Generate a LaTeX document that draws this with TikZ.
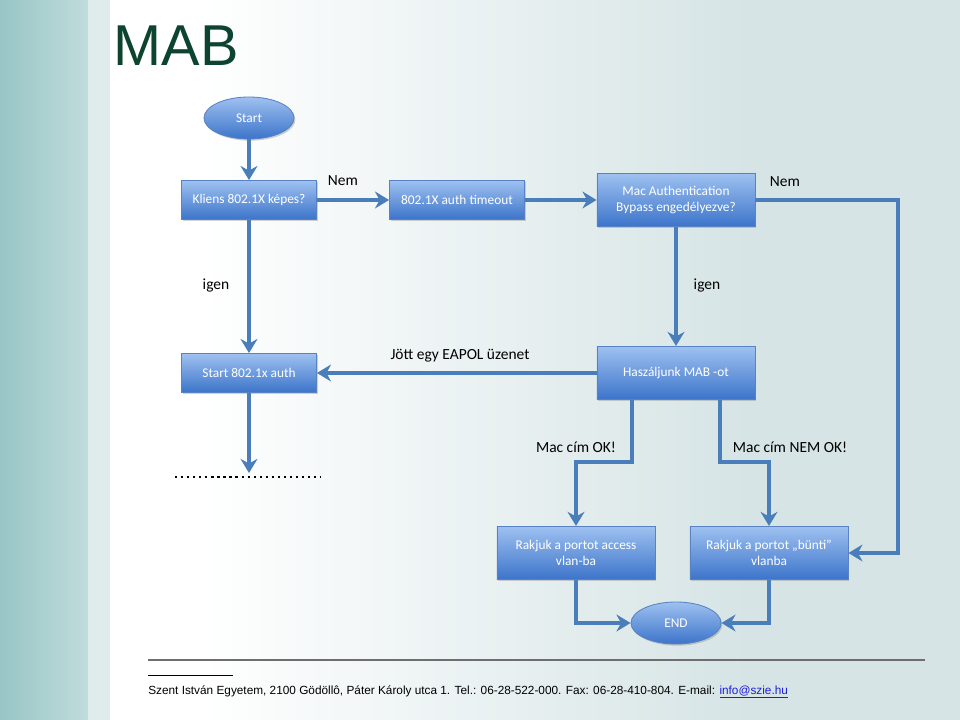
\documentclass[tikz,border=0pt]{standalone}
\usepackage{fontspec}
\setmainfont{Carlito}
\newfontfamily\arialfont{Liberation Sans}
\usetikzlibrary{shapes.geometric,arrows.meta,shadows,calc}
\definecolor{vonal}{RGB}{74,126,187}
\definecolor{dobozfent}{RGB}{158,193,240}
\definecolor{dobozlent}{RGB}{60,116,202}
\definecolor{dobozkeret}{RGB}{88,130,195}
\definecolor{cimzold}{RGB}{12,68,48}
\definecolor{hatter}{RGB}{214,228,229}
\definecolor{savbal}{RGB}{152,197,197}
\definecolor{savjobb}{RGB}{192,220,220}
\definecolor{savvilagos}{RGB}{224,235,235}
\definecolor{lablec}{RGB}{110,110,110}
\definecolor{link}{RGB}{30,30,220}
\tikzset{>={Stealth[length=10pt,width=12pt]}}
\tikzset{
  doboz/.style={rectangle, draw=dobozkeret, line width=0.6pt, top color=dobozfent,
    bottom color=dobozlent, text=white, font=\fontsize{9.5}{11.5}\selectfont,
    align=center, inner sep=0pt, minimum width=3.375cm, minimum height=0.975cm,
    drop shadow={opacity=0.35,shadow xshift=1pt,shadow yshift=-1.2pt}},
  szeles/.style={doboz, minimum width=3.95cm, minimum height=1.33cm},
  ovalis/.style={doboz, ellipse, minimum width=2.25cm, minimum height=1.05cm},
  nyil/.style={->, draw=vonal, line width=2.5pt},
  felirat/.style={font=\fontsize{11}{13}\selectfont, text=black},
}

\begin{document}
\begin{tikzpicture}[x=0.025cm,y=-0.025cm]
        \useasboundingbox (0,0) rectangle (960,720);
        % hatter
        \fill[white] (0,0) rectangle (960,720);
        \shade[left color=savbal, right color=savjobb] (0,0) rectangle (88,720);
        \fill[savvilagos] (88,0) rectangle (110,720);
        \shade[left color=white, right color=hatter] (200,0) rectangle (750,720);
        \fill[hatter] (750,0) rectangle (960,720);

        \node[font=\arialfont\fontsize{41}{45}\selectfont, text=cimzold] (cim) at (176,46) {MAB};

        \node[ovalis] (start) at (249,118) {Start};
        \node[doboz] (kliens) at (249,200) {Kliens 802.1X képes?};
        \node[doboz] (timeout) at (457,200) {802.1X auth timeout};
        \node[szeles] (macauth) at (676,200) {Mac Authentication\\Bypass engedélyezve?};
        \node[doboz] (startauth) at (249,373) {Start 802.1x auth};
        \node[szeles] (hasznal) at (676,373) {Haszáljunk MAB -ot};
        \node[szeles] (access) at (576,553) {Rakjuk a portot access\\vlan-ba};
        \node[szeles] (bunti) at (769,553) {Rakjuk a portot „bünti”\\vlanba};
        \node[ovalis] (vege) at (676,623) {END};

        \coordinate (jobbszel) at (898,200);
        \coordinate (pontok) at (249,473);

	\draw[nyil] (start) -- (kliens);
        \draw[nyil] (kliens) -- (timeout);
        \draw[nyil] (timeout) -- (macauth);
        \draw[nyil] (kliens) -- (startauth);
        \draw[nyil] (macauth) -- (hasznal);
        \draw[nyil] (hasznal) -- (startauth);
        \draw[nyil] (startauth) -- (pontok);
        \draw[nyil] (macauth.east) -- (jobbszel) |- (bunti.east);
        \draw[nyil] ($(hasznal.south)+(-44,0)$) -- ++(0,62) -| (access.north);
        \draw[nyil] ($(hasznal.south)+(44,0)$) -- ++(0,62) -| (bunti.north);
        \draw[nyil] (access.south) |- (vege.west);
        \draw[nyil] (bunti.south) |- (vege.east);
        \draw[line width=1.6pt, dash pattern=on 1.6pt off 2.7pt] (175,477) -- (321,477);

        \node[felirat] (nem1) at (343,181) {Nem};
        \node[felirat] (nem2) at (785,182) {Nem};
        \node[felirat] (igen1) at (216,286) {igen};
        \node[felirat] (igen2) at (707,286) {igen};
        \node[felirat] (eapol) at (460,356) {Jött egy EAPOL üzenet};
        \node[felirat] (macok) at (576,447) {Mac cím OK!};
        \node[felirat] (macnemok) at (790,447) {Mac cím NEM OK!};

        % lablec
        \draw[lablec, line width=1.1pt] (148,660) -- (925,660);
        \draw[black, line width=0.5pt] (148,675) -- (233,675);
        \node[anchor=west, inner sep=0pt, font=\arialfont\fontsize{8.4}{10}\selectfont] (cimsor) at (148,692)
          {Szent István Egyetem, 2100 Gödöllô, Páter Károly utca 1. Tel.: 06-28-522-000. Fax: 06-28-410-804. E-mail: \textcolor{link}{\underline{info@szie.hu}}};
    \end{tikzpicture}
\end{document}
